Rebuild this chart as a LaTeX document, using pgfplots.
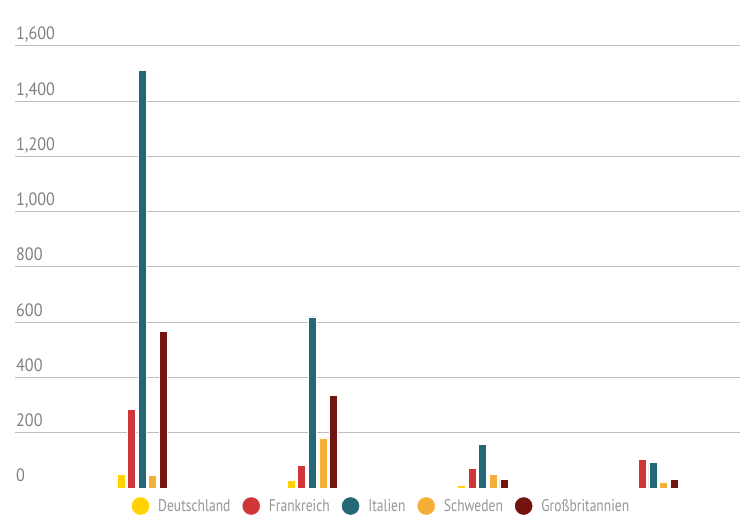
\documentclass[border=0pt]{standalone}
\usepackage{fontspec}
\setmainfont{PT Sans}[FakeStretch=0.85]
\newfontfamily\tickfont{PT Sans}[FakeStretch=0.9]
\newfontfamily\legfont{PT Sans}[FakeStretch=0.8]
\usepackage{pgfplots}
\pgfplotsset{compat=1.18}
\definecolor{cde}{RGB}{255,210,0}
\definecolor{cfr}{RGB}{208,54,56}
\definecolor{cit}{RGB}{36,104,120}
\definecolor{cse}{RGB}{243,175,56}
\definecolor{cgb}{RGB}{115,20,15}
\definecolor{gridgray}{RGB}{190,190,190}
\definecolor{labelgray}{RGB}{128,128,128}
\definecolor{legendgray}{RGB}{150,150,150}
\pgfplotsset{leg/.style={legend image code/.code={\fill[#1] (0bp,0bp) circle (8.5bp);}}}
\begin{document}
\begin{tikzpicture}
\useasboundingbox (0,0) rectangle (746bp,527bp);
\begin{axis}[
  at={(15bp,39.1bp)}, anchor=south west,
  scale only axis, width=725bp, height=441.9bp,
  xmin=-0.7457, xmax=3.511, ymin=0, ymax=1600,
  ybar=2.6bp, bar width=8bp,
  axis line style={draw=none}, tick style={draw=none},
  xtick=\empty,
  ytick={200,400,...,1600},
  extra y ticks={0}, extra y tick style={grid=none},
  ymajorgrids, grid style={color=gridgray, line width=1bp},
  /pgf/number format/assume math mode=true,
  /pgf/number format/1000 sep={,},
  yticklabel style={anchor=base west, inner sep=0pt, xshift=1bp, yshift=6bp, font=\tickfont\fontsize{18}{18}\selectfont, text=labelgray},
  legend columns=5,
  legend style={draw=none, fill=none, at={(0.5055,-0.041)}, anchor=center,
    font=\legfont\fontsize{17}{17}\selectfont, text=legendgray,
    /tikz/every odd column/.append style={column sep=7bp},
    /tikz/every even column/.append style={column sep=10bp}},
]
\addplot[fill=cde, draw=white, line width=0.5bp, leg=cde] coordinates {(0,50) (1,27) (2,9) (3,3)};
\addplot[fill=cfr, draw=white, line width=0.5bp, leg=cfr] coordinates {(0,285) (1,82) (2,72) (3,104)};
\addplot[fill=cit, draw=white, line width=0.5bp, leg=cit] coordinates {(0,1511) (1,619) (2,158) (3,93)};
\addplot[fill=cse, draw=white, line width=0.5bp, leg=cse] coordinates {(0,44) (1,181) (2,50) (3,22)};
\addplot[fill=cgb, draw=white, line width=0.5bp, leg=cgb] coordinates {(0,568) (1,334) (2,31) (3,31)};
\legend{Deutschland, Frankreich, Italien, Schweden, Großbritannien}
\end{axis}
\end{tikzpicture}
\end{document}
